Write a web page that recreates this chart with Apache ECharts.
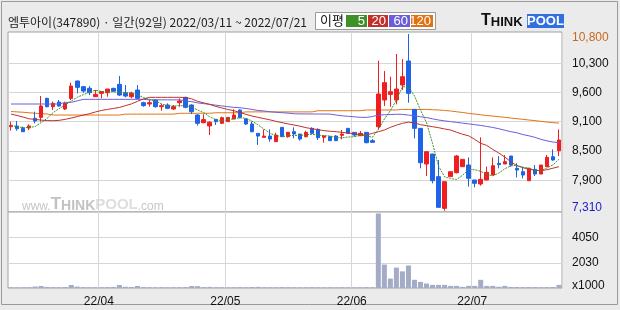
<!DOCTYPE html>
<html><head><meta charset="utf-8">
<script src="https://cdn.jsdelivr.net/npm/echarts@6/dist/echarts.min.js"></script>
<style>html,body{margin:0;padding:0;background:#ebebeb}#c{width:620px;height:310px}</style>
</head><body><div id="c"></div>
<script>
const title = '엠투아이(347890) · 일간(92일) 2022/03/11 ~ 2022/07/21';
const dates = [
 '03/11','03/14','03/15','03/16','03/17','03/18','03/21','03/22','03/23','03/24','03/25','03/28','03/29','03/30','03/31',
 '04/01','04/04','04/05','04/06','04/07','04/08','04/11','04/12','04/13','04/14','04/15','04/18','04/19','04/20','04/21','04/22','04/25','04/26','04/27','04/28','04/29',
 '05/02','05/03','05/04','05/06','05/09','05/10','05/11','05/12','05/13','05/16','05/17','05/18','05/19','05/20','05/23','05/24','05/25','05/26','05/27','05/30','05/31',
 '06/02','06/03','06/07','06/08','06/09','06/10','06/13','06/14','06/15','06/16','06/17','06/20','06/21','06/22','06/23','06/24','06/27','06/28','06/29','06/30',
 '07/01','07/04','07/05','07/06','07/07','07/08','07/11','07/12','07/13','07/14','07/15','07/18','07/19','07/20','07/21'];
const opens = [8970,8983,8937,8944,9135,9154,9529,9365,9457,9319,9529,9872,9760,9727,9562,9628,9641,9727,9806,9628,9562,9694,9444,9418,9497,9365,9398,9319,9444,9549,9398,9200,9049,8985,9115,9036,9069,9121,9299,9121,9023,8838,8759,8785,8674,8957,8772,8871,8825,8772,8937,8917,8759,8772,8785,8799,8937,8858,8792,8858,8694,8970,9497,9608,9497,9793,10267,9312,8937,8233,8430,7983,7357,7983,8061,8180,8213,7917,7838,7917,8015,8246,8233,8391,8147,8081,7903,8127,8035,8180,8377,8496];
const closes = [8996,8930,8871,8983,9082,9378,9365,9431,9378,9431,9773,9747,9674,9641,9608,9661,9714,9674,9595,9575,9628,9530,9385,9444,9365,9385,9332,9365,9477,9352,9266,9036,9110,9060,9069,9148,9154,9200,9154,9023,8871,8785,8785,8726,8805,8772,8858,8825,8726,8858,8838,8753,8785,8694,8694,8825,8838,8805,8838,8654,8661,9615,9839,9661,9714,9957,9628,8937,8259,8476,7903,7377,7884,8081,8391,8325,7950,7851,7930,8068,8200,8219,8279,8213,8114,8015,8147,8035,8213,8364,8312,8707];
const lows = [8891,8891,8864,8904,9036,9069,9350,9299,9365,9299,9497,9628,9641,9595,9562,9530,9562,9661,9575,9549,9530,9510,9365,9365,9345,9286,9319,9299,9365,9332,9220,8990,9036,8805,9003,9023,9069,9121,9135,9003,8858,8608,8759,8674,8674,8772,8753,8740,8694,8759,8838,8707,8654,8694,8694,8720,8838,8772,8785,8641,8661,8917,9378,9365,9411,9694,9444,8740,8147,7996,7851,7377,7310,7983,8048,8180,7785,7772,7805,7917,8015,8147,8233,8180,7969,7950,7903,7996,8035,8180,8299,8390];
const highs = [9068,9082,8970,9016,9266,9576,9543,9464,9497,9464,9839,9880,9773,9773,9694,9661,9714,9740,9971,9793,9661,9793,9464,9497,9510,9418,9431,9398,9530,9562,9411,9220,9215,9075,9115,9168,9154,9312,9312,9135,9069,8838,8917,8917,8851,8957,8858,8957,8825,8891,8957,8937,8805,8785,8805,8904,8937,8858,8884,8858,8726,10273,10069,9957,10405,10306,10800,9312,8937,8476,8430,8312,7884,8081,8410,8325,8364,7917,8759,8180,8364,8390,8410,8391,8246,8180,8147,8213,8213,8410,8522,8917];
const volumes = [60,50,55,60,120,160,90,70,60,80,240,110,70,60,55,60,70,90,240,100,80,160,70,60,55,60,50,55,60,80,160,150,70,90,60,55,50,60,70,60,80,90,60,55,60,70,60,55,50,55,60,55,50,55,50,60,55,50,55,70,60,6000,1890,760,1640,1340,1810,660,490,360,250,250,250,170,170,90,170,170,660,170,170,100,170,90,80,70,80,70,60,70,80,250];
const ma5 = [8990,8975,8950,8955,8972,9049,9136,9248,9327,9397,9476,9552,9601,9653,9689,9666,9660,9660,9650,9644,9637,9600,9543,9512,9470,9422,9382,9378,9385,9382,9358,9299,9248,9165,9108,9085,9108,9126,9145,9136,9080,9007,8924,8838,8794,8775,8789,8797,8797,8808,8821,8800,8792,8786,8753,8750,8767,8771,8800,8792,8759,8915,9121,9286,9498,9757,9760,9579,9299,9051,8641,8190,7980,7944,7927,8012,8126,8120,8089,8025,8000,8054,8139,8196,8205,8168,8154,8105,8105,8155,8214,8326];
const ma20 = [9220,9190,9160,9125,9115,9100,9090,9088,9095,9115,9140,9170,9200,9225,9260,9290,9310,9330,9350,9385,9420,9470,9520,9549,9550,9550,9550,9550,9550,9545,9520,9470,9440,9410,9370,9340,9310,9286,9250,9215,9181,9155,9130,9105,9075,9050,9025,9003,8980,8950,8930,8910,8891,8880,8870,8858,8845,8830,8810,8805,8838,8870,8904,8957,9000,9036,9060,9045,9010,8990,8970,8950,8925,8904,8860,8820,8790,8720,8641,8600,8520,8450,8370,8279,8200,8160,8130,8110,8100,8120,8150,8180];
const ma60 = [9418,9418,9418,9418,9418,9418,9418,9418,9418,9450,9450,9480,9510,9510,9510,9510,9510,9510,9510,9510,9510,9510,9510,9500,9500,9500,9500,9500,9500,9480,9465,9440,9425,9411,9395,9380,9365,9352,9345,9330,9310,9290,9280,9265,9255,9246,9238,9225,9222,9222,9220,9220,9220,9218,9200,9185,9175,9165,9155,9154,9170,9200,9205,9210,9215,9213,9200,9185,9167,9150,9125,9102,9085,9070,9055,9040,9025,9010,8995,8975,8955,8930,8900,8871,8850,8815,8790,8760,8720,8690,8667,8654];
const ma120 = [9270,9262,9255,9245,9235,9228,9220,9200,9200,9200,9200,9200,9200,9200,9200,9200,9200,9200,9200,9218,9218,9218,9218,9218,9218,9218,9218,9218,9235,9235,9235,9235,9235,9235,9245,9245,9245,9245,9245,9262,9262,9262,9262,9262,9262,9262,9262,9262,9262,9262,9262,9285,9285,9285,9285,9285,9285,9285,9285,9300,9300,9300,9300,9300,9300,9310,9310,9310,9310,9310,9305,9300,9290,9280,9265,9250,9233,9220,9205,9190,9180,9167,9155,9140,9128,9115,9102,9090,9075,9062,9049,9040];
const priceGridValues = [7907, 8489, 9072, 9641, 10221];
const priceGridLabels = ['7,900', '8,500', '9,100', '9,600', '10,300'];
const priceMax = 10800, priceMin = 7310;
const priceMaxLabel = '10,800', priceMinLabel = '7,310';
const volGridValues = [2030, 4050];
const volGridLabels = ['2030', '4050'];
const volUnitLabel = 'x1000';
const monthStarts = ['04/01', '05/02', '06/02', '07/01'];
const monthLabels = ['22/04', '22/05', '22/06', '22/07'];
const maNames = ['5', '20', '60', '120'];
const maColors = ['#3d9127', '#c3302a', '#6a5fd8', '#e07414'];

const chart = echarts.init(document.getElementById('c'), null, {renderer: 'canvas'});
const F = '"Liberation Sans", Arial, sans-serif';
const K = '"Noto Sans CJK KR", sans-serif';
const candles = dates.map((d, i) => [opens[i], closes[i], lows[i], highs[i]]);
const UP = '#f01e1e', DN = '#1f63e6';
const isMonthStart = (i, v) => monthStarts.indexOf(v) >= 0;

const legendX = [346, 368, 389, 411], legendW = [21, 20, 21, 22];
const graphics = [
  {type: 'rect', shape: {x: 1.5, y: 1.5, width: 616, height: 303}, style: {fill: 'none', stroke: '#9a9a9a', lineWidth: 1}, silent: true},
  {type: 'text', x: 8, y: 16, style: {text: title, font: '12px ' + K, fill: '#222'}},
  {type: 'rect', shape: {x: 315.5, y: 12.5, width: 120, height: 17}, style: {fill: '#fff', stroke: '#9a9a9a', lineWidth: 1}},
  {type: 'text', x: 320, y: 14, style: {text: '이평', font: '13px ' + K, fill: '#111'}},
  {type: 'text', x: 481, y: 13, style: {text: '{a|T}{b|HINK}', rich: {a: {font: 'bold 16px ' + F, fill: '#111'}, b: {font: 'bold 13px ' + F, fill: '#111', padding: [3, 0, 0, 0]}}}},
  {type: 'rect', shape: {x: 527, y: 14, width: 37, height: 14}, style: {fill: '#2f6fe0'}},
  {type: 'text', x: 545.5, y: 15, style: {text: 'POOL', font: 'bold 13px ' + F, fill: '#fff', align: 'center'}},
  {type: 'text', x: 22, y: 196, z: 0, style: {text: '{w|www.}{t|T}{h|HINK}{p|POOL}{c|.com}', rich: {
    w: {font: '12px ' + F, fill: '#c6c6c6', padding: [4, 0, 0, 0]},
    t: {font: 'bold 17px ' + F, fill: '#c2c2c2'},
    h: {font: 'bold 14px ' + F, fill: '#c2c2c2', padding: [3, 0, 0, 0]},
    p: {font: 'bold 15px ' + F, fill: '#dedede', padding: [1, 0, 0, 0]},
    c: {font: '12px ' + F, fill: '#c6c6c6', padding: [4, 0, 0, 0]}}}}
];
maNames.forEach((n, k) => {
  graphics.push({type: 'rect', shape: {x: legendX[k], y: 15, width: legendW[k], height: 12}, style: {fill: maColors[k]}});
  graphics.push({type: 'text', x: legendX[k] + legendW[k] - 2, y: 15, style: {text: n, font: '13px ' + F, fill: '#fff', align: 'right'}});
});

const maSeries = [ma5, ma20, ma60, ma120].map((d, k) => ({
  type: 'line', name: 'MA' + maNames[k], data: d, xAxisIndex: 0, yAxisIndex: 0,
  symbol: 'none', silent: true, z: 5 - k,
  lineStyle: {width: 1, color: maColors[k], type: k === 0 ? [2, 1] : 'solid'}
}));

chart.setOption({
  animation: false,
  backgroundColor: '#ebebeb',
  graphic: graphics,
  grid: [
    {left: 8, right: 58, top: 32, height: 180, show: true, backgroundColor: '#fff', borderColor: '#a0a0a0', borderWidth: 1},
    {left: 8, right: 58, top: 212, height: 76, show: true, backgroundColor: '#fff', borderColor: '#a0a0a0', borderWidth: 1}
  ],
  xAxis: [
    {type: 'category', data: dates, gridIndex: 0, boundaryGap: true,
     axisLine: {show: false}, axisTick: {show: false}, axisLabel: {show: false},
     splitLine: {show: true, interval: isMonthStart, lineStyle: {color: '#d6d6d6', width: 1}}},
    {type: 'category', data: dates, gridIndex: 1, boundaryGap: true,
     axisLine: {show: false}, axisTick: {show: false},
     axisLabel: {show: true, interval: isMonthStart, formatter: v => monthLabels[monthStarts.indexOf(v)],
                 margin: 8, color: '#111', fontSize: 12, fontFamily: F, padding: [0, 5, 0, 0]},
     splitLine: {show: true, interval: isMonthStart, lineStyle: {color: '#d6d6d6', width: 1}}}
  ],
  yAxis: [
    {type: 'value', gridIndex: 0, position: 'right', min: 7285, max: 10840, scale: true,
     axisLine: {show: false},
     axisTick: {show: false, customValues: priceGridValues},
     splitLine: {show: true, lineStyle: {color: '#d6d6d6', width: 1}},
     axisLabel: {show: true, margin: 10, customValues: priceGridValues.concat([priceMax, priceMin]),
       formatter: v => {
         if (v === priceMax) return '{mx|' + priceMaxLabel + '}';
         if (v === priceMin) return '{mn|' + priceMinLabel + '}';
         return '{n|' + priceGridLabels[priceGridValues.indexOf(v)] + '}';
       },
       rich: {
         n: {color: '#111', fontSize: 12, fontFamily: F},
         mx: {color: '#c8691f', fontSize: 12, fontFamily: F, padding: [8, 0, 0, 0]},
         mn: {color: '#1c1cd0', fontSize: 12, fontFamily: F, padding: [0, 0, 7, 0]}
       }}},
    {type: 'value', gridIndex: 1, position: 'right', min: 0, max: 6120,
     axisLine: {show: false},
     axisTick: {show: false, customValues: volGridValues},
     splitLine: {show: true, lineStyle: {color: '#d6d6d6', width: 1}},
     axisLabel: {show: true, margin: 10, customValues: [0].concat(volGridValues),
       formatter: v => v === 0 ? '{u|' + volUnitLabel + '}' : '{n|' + volGridLabels[volGridValues.indexOf(v)] + '}',
       rich: {
         n: {color: '#111', fontSize: 12, fontFamily: F},
         u: {color: '#111', fontSize: 12, fontFamily: F, padding: [0, 0, 5, 0]}
       }}}
  ],
  series: [
    {type: 'candlestick', name: '엠투아이', data: candles, xAxisIndex: 0, yAxisIndex: 0, barWidth: 4, z: 2,
     itemStyle: {color: UP, color0: DN, borderColor: UP, borderColor0: DN, borderWidth: 1}},
    ...maSeries,
    {type: 'bar', name: '거래량', data: volumes, xAxisIndex: 1, yAxisIndex: 1, barWidth: 5,
     itemStyle: {color: '#a3abc7'}}
  ]
});
</script></body></html>
